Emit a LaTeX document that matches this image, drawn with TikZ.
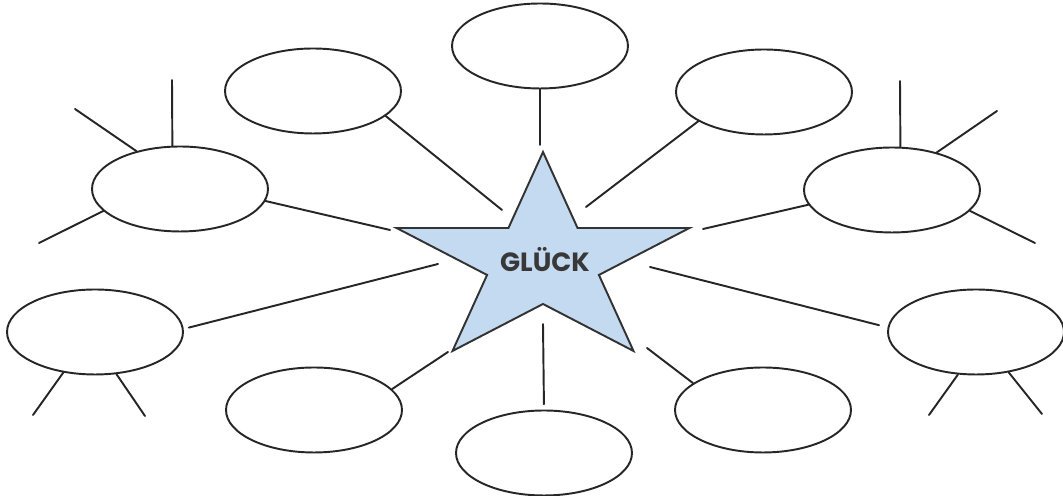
\documentclass[tikz,border=0pt]{standalone}
\usepackage{fontspec}
\newfontfamily\comicfont{Poppins}
\usetikzlibrary{shapes.geometric,calc}
\definecolor{starblue}{RGB}{196,218,240}

\begin{document}
\begin{tikzpicture}[x=0.02cm,y=0.02cm,line width=1.1pt,
  blob/.style={draw=black!85,ellipse,minimum width=3.52cm,minimum height=1.7cm,inner sep=0pt},
  link/.style={draw=black!85,line cap=round},
  starbox/.style={fill=starblue,draw=black!80,line join=miter}]
\useasboundingbox (0,0) rectangle (1063,496);
% ===== central star =====
\coordinate (sc) at (543,234);
\draw[starbox,shift={(sc)},xscale=1.4] (90:110)
  \foreach \k [evaluate=\k as \r using {mod(\k,2)==0 ? 110 : 42}] in {1,...,9}{ -- ({90+36*\k}:\r)} -- cycle;
\node[font=\comicfont\bfseries\fontsize{15}{15}\selectfont,text=black!78] (glueck) at (545,236) {GLÜCK};
% ===== empty ellipses =====
\node[blob] (etop) at (540,450) {};
\node[blob] (eul)  at (313,405) {};
\node[blob] (eur)  at (764,404) {};
\node[blob] (eml)  at (180,307) {};
\node[blob] (emr)  at (892,306) {};
\node[blob] (ell)  at (95,164)  {};
\node[blob] (elr)  at (976,164) {};
\node[blob] (ebl)  at (314,86)  {};
\node[blob] (ebr)  at (763,86)  {};
\node[blob] (ebot) at (544,43)  {};
% links star <-> ellipses (star end stays free)
\foreach \n/\a/\x/\y/\g in {etop/270/540/351/0, eul/-19/502/286/0, eur/204/586/289/0,
    eml/-8/390/266/0, emr/190/703/267/0, ell/2/438/232/3, elr/177/650/229/5,
    ebl/15/448/144/0, ebr/159/647/148/0, ebot/90/543/172/3}{
  \coordinate (s-\n) at (\x,\y);
  \draw[link,shorten <=\g pt] (\n.\a) -- (s-\n);
}
% side spokes on the four outer ellipses
\foreach \n/\a/\x/\y in {eml/100/172/416, eml/139/75/387, eml/196/39/253,
    emr/79/900/415, emr/40/997/385, emr/345/1035/253,
    ell/232/33/81, ell/297/145/80, elr/247/929/81, elr/309/1042/82}{
  \coordinate (\n-\a) at (\x,\y);
  \draw[link] (\n.\a) -- (\n-\a);
}
\end{tikzpicture}
\end{document}
